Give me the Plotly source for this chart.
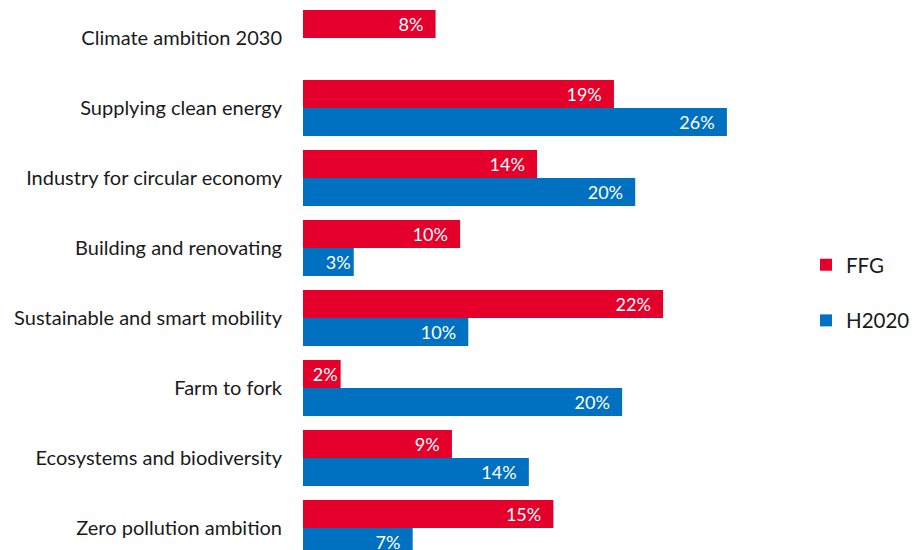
import plotly.graph_objects as go

# Share of funding by Green Deal area (percent)
categories = [
    "Climate ambition 2030",
    "Supplying clean energy",
    "Industry for circular economy",
    "Building and renovating",
    "Sustainable and smart mobility",
    "Farm to fork",
    "Ecosystems and biodiversity",
    "Zero pollution ambition",
]
ffg = [8.1, 19.0, 14.3, 9.6, 22.0, 2.3, 9.1, 15.3]
h2020 = [None, 25.9, 20.3, 3.1, 10.1, 19.5, 13.8, 6.7]

FFG_COLOR = "#E4002B"
H2020_COLOR = "#0070C0"
FONT = "Lato, Carlito, 'Open Sans', sans-serif"

PAD = "\u00a0\u00a0"


def label_templates(values):
    # small bars get the label without end padding so it still fits
    return ["%{x:.0f}%" + ("" if (v is None or v < 4) else PAD) for v in values]


fig = go.Figure()
fig.add_trace(go.Bar(
    name="FFG", y=categories, x=ffg, orientation="h",
    marker=dict(color=FFG_COLOR, line=dict(width=0)),
    texttemplate=label_templates(ffg), textposition="inside",
    insidetextanchor="end", textangle=0,
    textfont=dict(color="white", size=18, family=FONT),
    legendgroup="ffg",
))
fig.add_trace(go.Bar(
    name="H2020", y=categories, x=h2020, orientation="h",
    marker=dict(color=H2020_COLOR, line=dict(width=0)),
    texttemplate=label_templates(h2020), textposition="inside",
    insidetextanchor="end", textangle=0,
    textfont=dict(color="white", size=18, family=FONT),
    legendgroup="h2020",
))

fig.update_layout(
    width=915, height=550,
    margin=dict(l=303, r=115, t=3, b=0),
    barmode="group", bargap=0.2, bargroupgap=0,
    plot_bgcolor="white", paper_bgcolor="white",
    font=dict(family=FONT, size=20, color="#1a1a1a"),
    uniformtext=dict(minsize=8, mode="show"),
    xaxis=dict(range=[0, 30.0], visible=False, fixedrange=True),
    yaxis=dict(
        type="category", range=[7.314, -0.5],
        showgrid=False, zeroline=False, showline=False,
        ticks="", ticklabelstandoff=20,
        tickfont=dict(size=20, family=FONT, color="#1a1a1a"),
    ),
    legend=dict(
        x=1.025, xanchor="left", y=0.47, yanchor="middle",
        traceorder="grouped", tracegroupgap=26,
        font=dict(size=20.5, family=FONT, color="#1a1a1a"),
        itemwidth=30,
    ),
    showlegend=True,
)

fig.write_html("out.html")
